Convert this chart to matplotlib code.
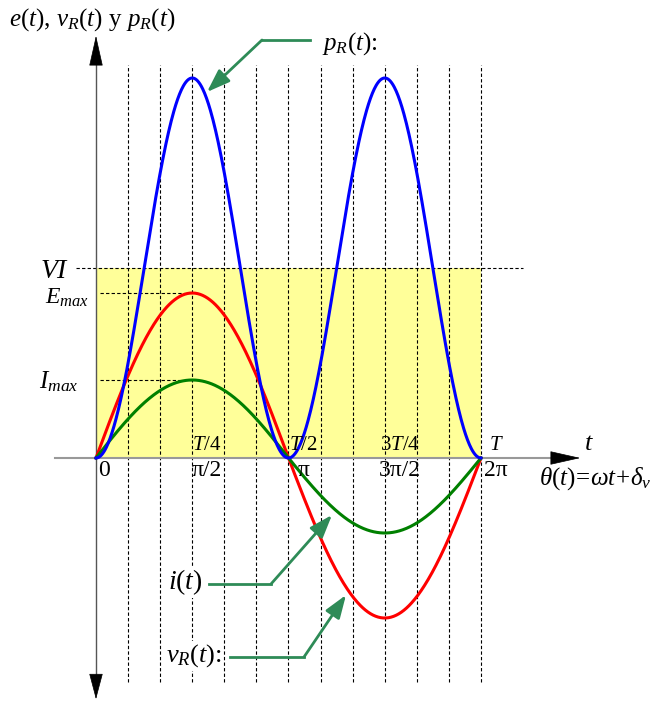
import numpy as np
import matplotlib.pyplot as plt

plt.rcParams['font.family'] = ['Liberation Serif', 'DejaVu Serif']
plt.rcParams['mathtext.fontset'] = 'custom'
plt.rcParams['mathtext.rm'] = 'Liberation Serif'
plt.rcParams['mathtext.it'] = 'Liberation Serif:italic'

# ==== data (units: arbitrary, 1 unit = 100 px in the drawing)
P_MAX = 3.80       # peak of p_R(t)
VI = 1.90          # average power level
E_MAX = 1.65       # amplitude of v_R(t), positive half
I_MAX = 0.78       # amplitude of i(t), positive half
E_NEG = 1.60       # depth of v_R(t), negative half
I_NEG = 0.75       # depth of i(t), negative half

grid_steps = np.arange(1, 13)            # dashed verticals every pi/6
top_labels = ['$T/4$', '$T/2$', '$3T/4$', '$T$']
bottom_labels = ['0', 'π/2', 'π', '3π/2', '2π']

W, H = 654, 702
X0, Y0 = 96, 458
K = 385 / (2 * np.pi)   # px per radian


def px(x, y):
	# pixel position in the picture -> data coords
	return (x - X0) / K, (Y0 - y) / 100


fig = plt.figure(figsize=(W / 100, H / 100), dpi=100)
ax = fig.add_axes([0, 0, 1, 1])
ax.set_xlim(-X0 / K, (W - X0) / K)
ax.set_ylim(-(H - Y0) / 100, Y0 / 100)
ax.axis('off')

theta = np.linspace(0, 2 * np.pi, 600)
pos = theta <= np.pi
s = np.sin(theta)

# yellow area = average power
ax.fill_between([0, 2 * np.pi], 0, VI, color='#ffff99', lw=0, zorder=0)

# vertical dashed grid
for k in grid_steps:
	ax.plot([k * np.pi / 6] * 2, [px(0, 682)[1], px(0, 65)[1]], color='black',
			lw=0.8, ls=(0, (3, 2)), zorder=1)

# horizontal dashed guides
ax.plot([px(76, 0)[0], px(523, 0)[0]], [VI, VI], color='black', lw=0.8, ls=(0, (3, 2)), zorder=1)
ax.plot([px(100, 0)[0], np.pi / 2], [E_MAX, E_MAX], color='black', lw=0.8, ls=(0, (3, 2)), zorder=1)
ax.plot([px(100, 0)[0], np.pi / 2], [I_MAX, I_MAX], color='black', lw=0.8, ls=(0, (3, 2)), zorder=1)

# axes
xa, xb = px(55, 0)[0], px(583, 0)[0]
ax.plot([xa, xb - 0.3], [0, 0], color='#999999', lw=1.5, zorder=2)
ax.annotate('', xy=(xb, 0), xytext=(xb - 0.45, 0),
			arrowprops=dict(arrowstyle='-|>,head_length=20,head_width=4.5', mutation_scale=1,
							color='black', lw=0.5), zorder=5)
yb, yt = px(0, 702)[1], px(0, 33)[1]
ax.plot([0, 0], [yb + 0.2, yt - 0.2], color='#555555', lw=1.0, zorder=2)
ax.annotate('', xy=(0, yt), xytext=(0, yt - 0.3),
			arrowprops=dict(arrowstyle='-|>,head_length=20,head_width=4.5', mutation_scale=1,
							color='black', lw=0.5), zorder=5)
ax.annotate('', xy=(0, yb), xytext=(0, yb + 0.3),
			arrowprops=dict(arrowstyle='-|>,head_length=17,head_width=4.5', mutation_scale=1,
							color='black', lw=0.5), zorder=5)

# curves
v = np.where(pos, E_MAX * s, E_NEG * s)
i = np.where(pos, I_MAX * s, I_NEG * s)
p = P_MAX * s ** 2
ax.plot(theta, v, color='#ff0000', lw=2.2, zorder=3)
ax.plot(theta, i, color='#008000', lw=2.2, zorder=3)
ax.plot(theta, p, color='#0000ff', lw=2.2, zorder=4)

# green pointer arrows
arrow_green = '#2e8b57'
for pts in ([(310, 40), (262, 40), (207, 92)],
			[(209, 584), (271, 584), (332, 515)],
			[(230, 657), (304, 657), (346, 595)]):
	d = [px(*q) for q in pts]
	ax.plot([d[0][0], d[1][0]], [d[0][1], d[1][1]], color=arrow_green, lw=2, zorder=6)
	ax.annotate('', xy=d[2], xytext=d[1],
				arrowprops=dict(arrowstyle='-|>,head_length=14,head_width=5', mutation_scale=1,
								color=arrow_green, lw=2, shrinkA=0, shrinkB=0), zorder=6)

# texts
def label(x, y, s, size, ha='center', **kw):
	ax.text(*px(x, y), s, fontsize=size, ha=ha, va='center', zorder=7, **kw)

label(9, 20, '$e(t)$, $v_R(t)$ y $p_R(t)$', 18, ha='left')
label(322, 44, '$p_R(t)$:', 18, ha='left')
label(168, 582, '$i(t)$', 20, ha='left',
	  bbox=dict(facecolor='white', edgecolor='none', pad=1))
label(166, 656, '$v_R(t)$:', 19, ha='left',
	  bbox=dict(facecolor='white', edgecolor='none', pad=1))
label(69, 271, '$VI$', 20, ha='right')
label(89, 298, '$E_{max}$', 17, ha='right')
label(78, 382, '$I_{max}$', 18, ha='right')

for k, s_ in enumerate(top_labels):
	label(X0 + K * (k + 1) * np.pi / 2 + 15, 445, s_, 15)
for k, s_ in enumerate(bottom_labels):
	off = 8 if k == 0 else 15
	label(X0 + K * k * np.pi / 2 + off, 471, s_, 17)
label(589, 444, '$t$', 19)
label(539, 479, r'$\theta(t)\!=\!\omega t\!+\!\delta_v$', 18, ha='left')

fig.savefig('out.png', dpi=100)
